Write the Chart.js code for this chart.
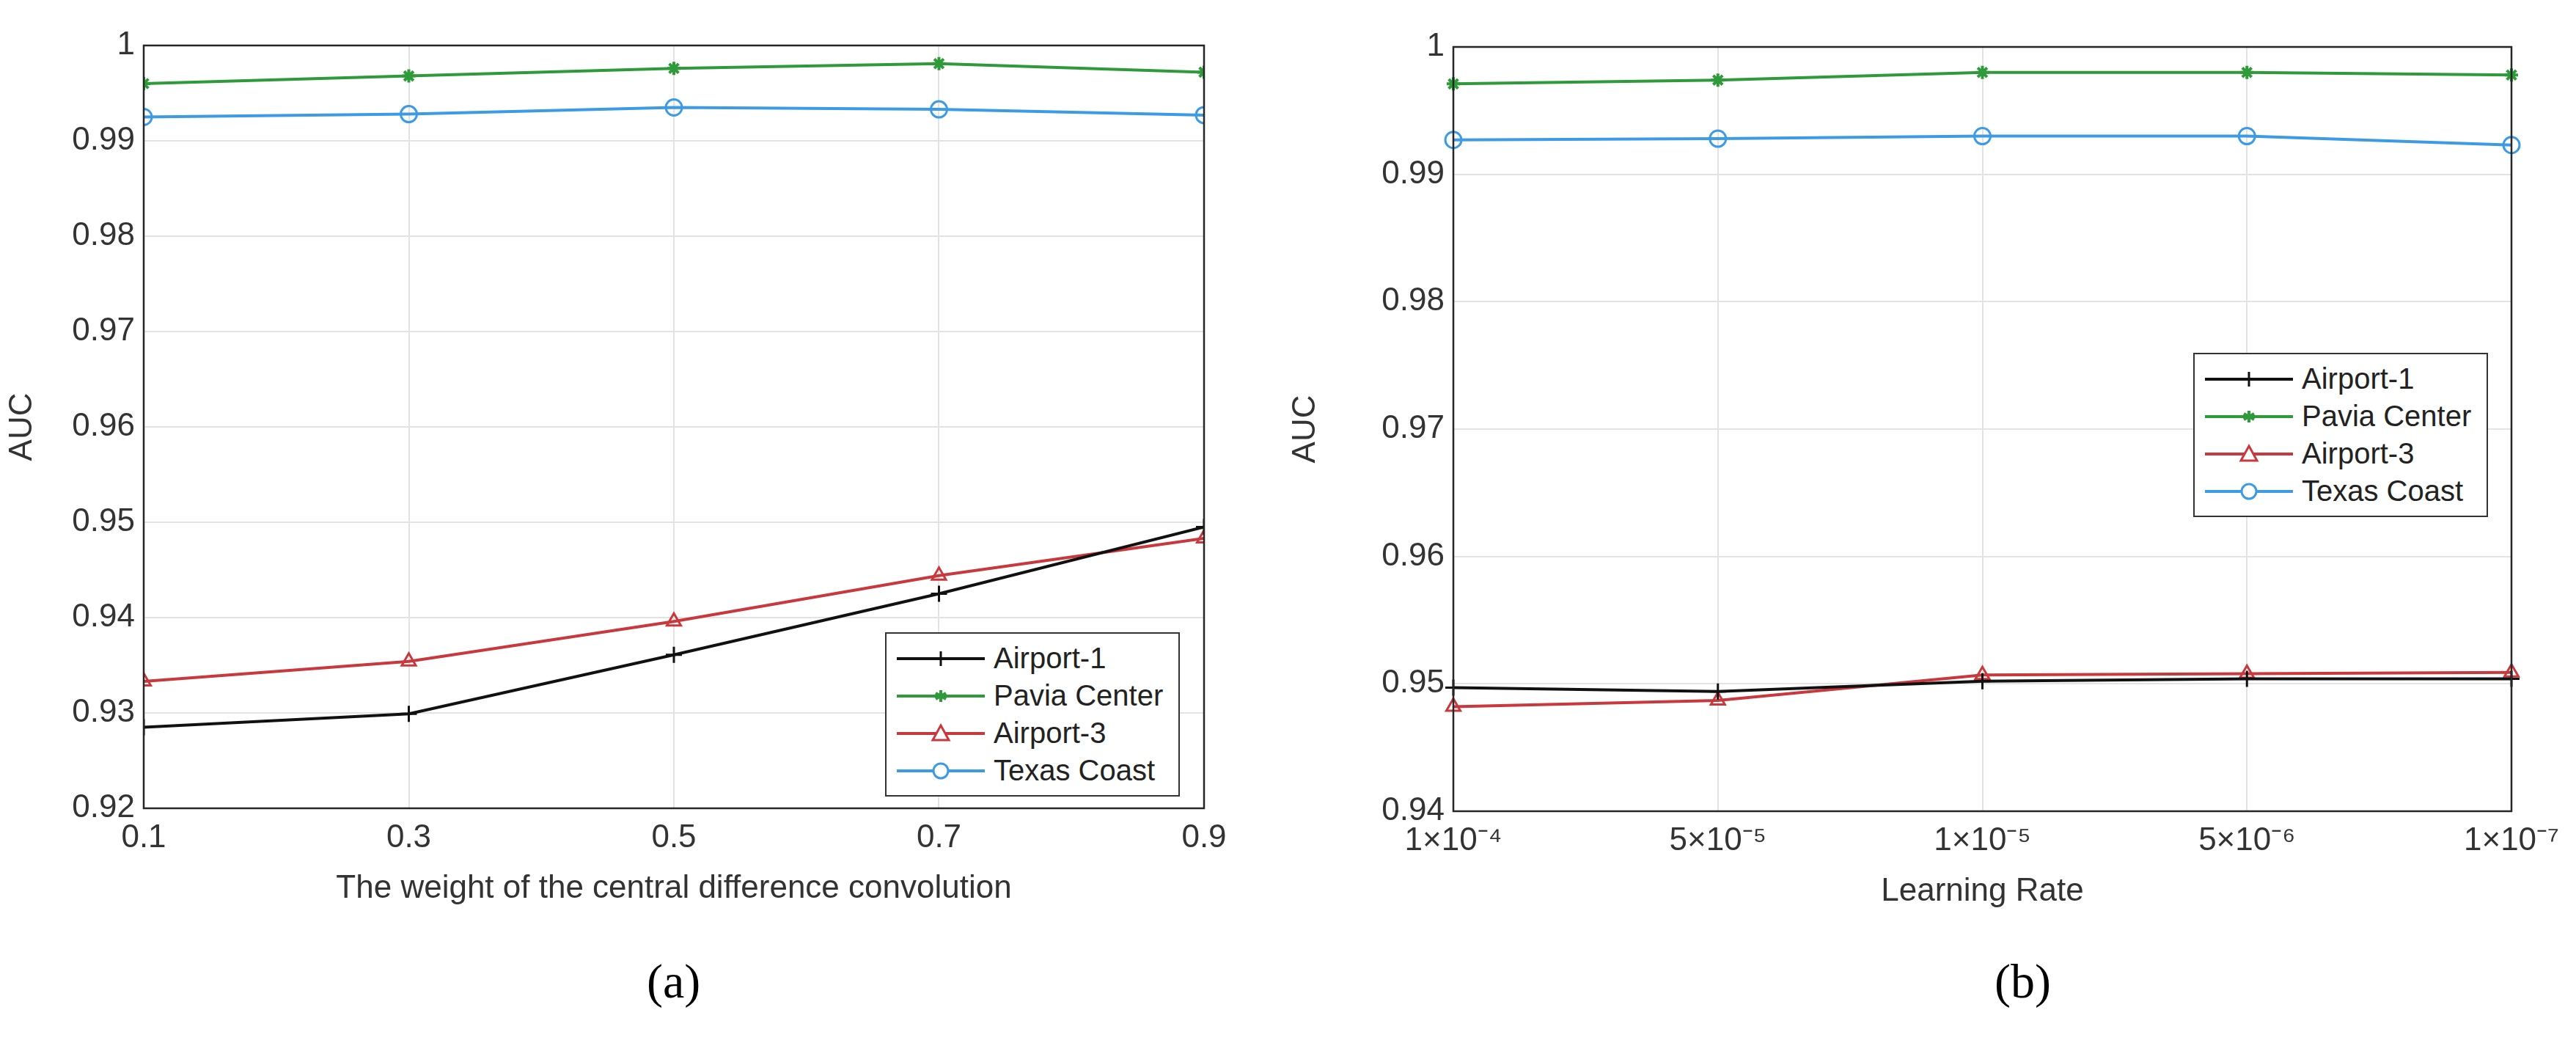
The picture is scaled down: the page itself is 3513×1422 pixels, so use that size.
<!DOCTYPE html>
<html>
<head>
<meta charset="utf-8">
<script src="https://cdn.jsdelivr.net/npm/chart.js@4/dist/chart.umd.min.js"></script>
<style>
  body { margin: 0; background: #fff; width: 3513px; height: 1422px; position: relative; overflow: hidden; font-family: "Liberation Sans", Arial, sans-serif; }
  .wrap { position: absolute; top: 0; height: 1422px; }
  .cap { position: absolute; font-family: "Liberation Serif", "Times New Roman", serif; font-size: 66px; color: #000; }
  .legend { position: absolute; border: 2px solid #333; background: #fff; padding: 8px 14px; font-size: 40px; color: #222; }
  .legend div { display: flex; align-items: center; height: 51px; }
  .legend svg { margin-right: 12px; }
</style>
</head>
<body>
<div class="wrap" style="left:0;width:1700px"><canvas id="chartA"></canvas></div>
<div class="wrap" style="left:1750px;width:1763px"><canvas id="chartB"></canvas></div>
<div class="cap" style="left:882px;top:1300px">(a)</div>
<div class="cap" style="left:2720px;top:1300px">(b)</div>
<div class="legend" id="legA" style="left:1207px;top:862px;width:370px"></div>
<div class="legend" id="legB" style="left:2991px;top:481px;width:370px"></div>
<script>
// (a) weight of central difference convolution
const weights = [0.1, 0.3, 0.5, 0.7, 0.9];
const aAirport1 = [0.9285, 0.9299, 0.9361, 0.9425, 0.9495];
const aPavia = [0.9960, 0.9968, 0.9976, 0.9981, 0.9972];
const aAirport3 = [0.9333, 0.9354, 0.9396, 0.9444, 0.9483];
const aTexas = [0.9925, 0.9928, 0.9935, 0.9933, 0.9927];

// (b) learning rate
const rates = ["1×10⁻⁴", "5×10⁻⁵", "1×10⁻⁵", "5×10⁻⁶", "1×10⁻⁷"];
const bAirport1 = [0.9497, 0.9494, 0.9502, 0.9504, 0.9504];
const bPavia = [0.9971, 0.9974, 0.9980, 0.9980, 0.9978];
const bAirport3 = [0.9482, 0.9487, 0.9507, 0.9508, 0.9509];
const bTexas = [0.9927, 0.9928, 0.9930, 0.9930, 0.9923];

const seriesStyle = [
  { label: "Airport-1", color: "#111111", pointStyle: "cross", fill: false },
  { label: "Pavia Center", color: "#2e9a3a", pointStyle: "star", fill: true },
  { label: "Airport-3", color: "#c8383c", pointStyle: "triangle", fill: false },
  { label: "Texas Coast", color: "#3d9be6", pointStyle: "circle", fill: false },
];

function makeDatasets(values, xs) {
  return values.map((vals, i) => {
    const s = seriesStyle[i];
    return {
      label: s.label,
      data: xs ? vals.map((v, j) => ({ x: xs[j], y: v })) : vals,
      borderColor: s.color,
      backgroundColor: s.fill ? s.color : "rgba(0,0,0,0)",
      pointBorderColor: s.color,
      pointBackgroundColor: s.fill ? s.color : "rgba(0,0,0,0)",
      pointStyle: s.pointStyle,
      pointRadius: s.pointStyle === "star" ? 9 : 11,
      pointBorderWidth: s.pointStyle === "star" ? 4 : 3,
      borderWidth: 4,
      tension: 0,
    };
  });
}

const boxPlugin = {
  id: "box",
  afterDraw(chart) {
    const { ctx, chartArea: a } = chart;
    ctx.save();
    ctx.strokeStyle = "#262626";
    ctx.lineWidth = 2.5;
    ctx.strokeRect(a.left, a.top, a.right - a.left, a.bottom - a.top);
    ctx.restore();
  },
};

const tickFont = { family: "Liberation Sans", size: 44 };

function buildChart(id, datasets, xScale, yMin, yMax, xTitle, yWidth, pad) {
  return new Chart(document.getElementById(id), {
    type: "line",
    data: { labels: xScale.labels, datasets },
    options: {
      responsive: true,
      maintainAspectRatio: false,
      animation: false,
      layout: { padding: pad },
      plugins: { legend: { display: false }, tooltip: { enabled: false } },
      scales: {
        x: Object.assign({
          grid: { color: "#e3e3e3", lineWidth: 2, drawTicks: false },
          border: { display: false },
          ticks: { color: "#333", font: tickFont, padding: 14, maxRotation: 0 },
          title: { display: true, text: xTitle, color: "#333", font: tickFont, padding: { top: 6 } },
          afterFit: (s) => { s.height = 140; },
        }, xScale.opts),
        y: {
          min: yMin,
          max: yMax,
          grid: { color: "#e3e3e3", lineWidth: 2, drawTicks: false },
          border: { display: false },
          ticks: {
            stepSize: 0.01, color: "#333", font: tickFont, padding: 12,
            callback: (v) => (Math.abs(v - 1) < 1e-9 ? "1" : v.toFixed(2)),
          },
          title: { display: true, text: "AUC", color: "#333", font: tickFont, padding: 4 },
          afterFit: (s) => { s.width = yWidth; },
        },
      },
    },
    plugins: [boxPlugin],
  });
}

buildChart("chartA",
  makeDatasets([aAirport1, aPavia, aAirport3, aTexas], weights),
  { opts: { type: "linear", min: 0.1, max: 0.9, ticks: { stepSize: 0.2, color: "#333", font: tickFont, padding: 14, maxRotation: 0, callback: (v) => v.toFixed(1) } } },
  0.92, 1.0, "The weight of the central difference convolution", 196,
  { top: 62, right: 58, bottom: 180, left: 0 });

buildChart("chartB",
  makeDatasets([bAirport1, bPavia, bAirport3, bTexas]),
  { labels: rates, opts: { type: "category", offset: false } },
  0.94, 1.0, "Learning Rate", 232,
  { top: 64, right: 88, bottom: 176, left: 0 });

function legendHtml() {
  return seriesStyle.map((s) => {
    let m = "";
    if (s.pointStyle === "cross") m = `<line x1="60" y1="10" x2="60" y2="30" stroke="${s.color}" stroke-width="3"/>`;
    if (s.pointStyle === "star") m = `<g stroke="${s.color}" stroke-width="4"><line x1="60" y1="12" x2="60" y2="28"/><line x1="53" y1="16" x2="67" y2="24"/><line x1="53" y1="24" x2="67" y2="16"/></g>`;
    if (s.pointStyle === "triangle") m = `<polygon points="60,9 71,29 49,29" fill="#fff" stroke="${s.color}" stroke-width="3"/>`;
    if (s.pointStyle === "circle") m = `<circle cx="60" cy="20" r="10" fill="#fff" stroke="${s.color}" stroke-width="3"/>`;
    return `<div><svg width="120" height="40"><line x1="0" y1="20" x2="120" y2="20" stroke="${s.color}" stroke-width="4"/>${m}</svg>${s.label}</div>`;
  }).join("");
}
document.getElementById("legA").innerHTML = legendHtml();
document.getElementById("legB").innerHTML = legendHtml();
</script>
</body>
</html>
